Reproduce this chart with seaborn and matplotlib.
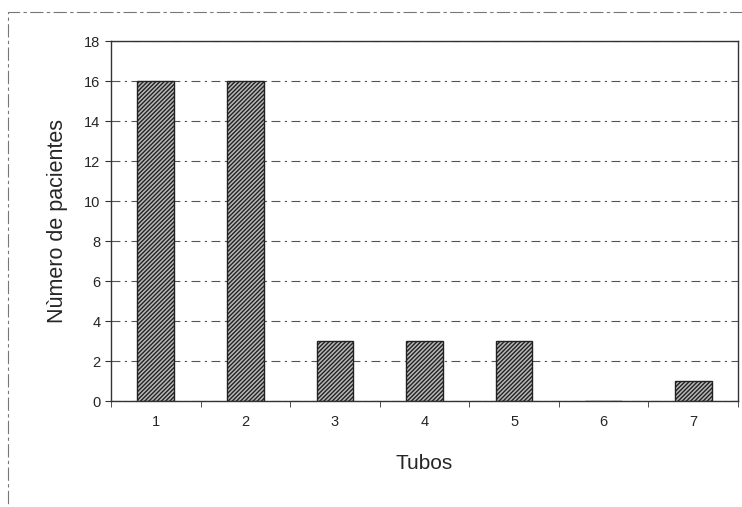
import matplotlib
matplotlib.use("Agg")
import matplotlib.pyplot as plt
import seaborn as sns
import pandas as pd
from matplotlib.patches import Rectangle

tubos = ["1", "2", "3", "4", "5", "6", "7"]
pacientes = [16, 16, 3, 3, 3, 0, 1]
yticks = [0, 2, 4, 6, 8, 10, 12, 14, 16, 18]

sns.set_style("white")
plt.rcParams['font.family'] = ['Liberation Sans', 'DejaVu Sans']
plt.rcParams['hatch.color'] = '#2a2a2a'
plt.rcParams['hatch.linewidth'] = 1.0

df = pd.DataFrame({"Tubos": tubos, "Pacientes": pacientes})

fig = plt.figure(figsize=(7.42, 5.07), dpi=100)
ax = fig.add_axes([0.1496, 0.209, 0.845, 0.71])

sns.barplot(data=df, x="Tubos", y="Pacientes", ax=ax, color="#b8b8b8",
            width=0.41, edgecolor="#222222", linewidth=1.0, hatch="////////")

ax.set_ylim(0, 18)
ax.set_xlim(-0.5, 6.5)
ax.set_yticks(yticks)
ax.yaxis.grid(True, linestyle=(0, (8, 4, 2, 4)), color="#555555", linewidth=0.8)
ax.set_axisbelow(True)
for s in ax.spines.values():
    s.set_color("#333333")
    s.set_linewidth(1.0)

ax.set_xticks(range(7))
ax.set_xticklabels(tubos)
ax.set_xticks([i - 0.5 for i in range(8)], minor=True)
ax.tick_params(axis="x", which="major", length=0, pad=10, labelsize=10.5)
ax.tick_params(axis="x", which="minor", length=4, direction="out", color="#333333")
ax.tick_params(axis="y", length=4, direction="out", color="#333333", labelsize=10.5)
ax.tick_params(axis="both", bottom=True, left=True)
ax.xaxis.set_tick_params(which="minor", bottom=True)

ax.set_xlabel("Tubos", fontsize=15, labelpad=18)
ax.set_ylabel("Nùmero de pacientes", fontsize=15.5, labelpad=12)

# outer chart frame (dashed, as in scan)
fig.patches.append(Rectangle((0.011, -0.1), 1.2, 1.076, transform=fig.transFigure,
                             fill=False, edgecolor="#777777", linewidth=0.8,
                             linestyle=(0, (12, 3, 3, 3))))

fig.savefig("out.png", dpi=100)
